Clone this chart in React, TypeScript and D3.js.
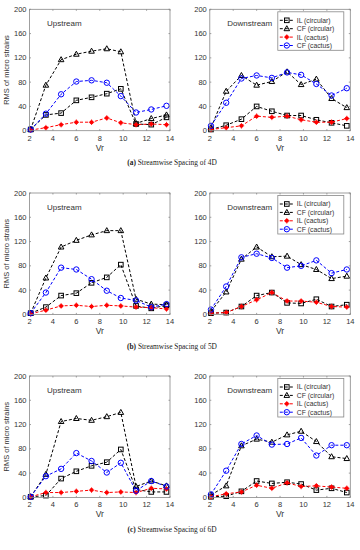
import React from "react";
import * as d3 from "d3";

const vr = [2.1, 3.4, 4.7, 6.0, 7.3, 8.6, 9.8, 11.1, 12.4, 13.7];
const xTicks = [2, 4, 6, 8, 10, 12, 14];
const yTicks = [0, 40, 80, 120, 160, 200];
const seriesNames = ["IL (circular)", "CF (circular)", "IL (cactus)", "CF (cactus)"];
const captions = ["(a)|Streamwise Spacing of 4D", "(b)|Streamwise Spacing of 5D", "(c)|Streamwise Spacing of 6D"];

// (a) 4D
const aUpIlCircular = [2, 26, 29, 50, 55, 61, 69, 11, 10, 22];
const aUpCfCircular = [2, 75, 117, 126, 131, 135, 130, 12, 20, 26];
const aUpIlCactus = [1, 5, 10, 14, 14, 21, 13, 10, 11, 10];
const aUpCfCactus = [2, 28, 60, 81, 83, 79, 57, 30, 35, 41];
const aDownIlCircular = [2, 9, 19, 40, 32, 25, 25, 18, 13, 8];
const aDownCfCircular = [5, 65, 91, 75, 81, 97, 76, 85, 53, 38];
const aDownIlCactus = [2, 5, 8, 24, 22, 24, 18, 14, 14, 20];
const aDownCfCactus = [8, 46, 86, 91, 87, 96, 92, 77, 58, 70];

// (b) 5D
const bUpIlCircular = [2, 12, 31, 35, 52, 61, 82, 14, 10, 15];
const bUpCfCircular = [2, 60, 111, 122, 131, 138, 138, 25, 17, 16];
const bUpIlCactus = [1, 7, 14, 15, 13, 15, 14, 12, 11, 9];
const bUpCfCactus = [2, 36, 77, 74, 58, 39, 27, 23, 12, 17];
const bDownIlCircular = [2, 3, 13, 31, 36, 19, 18, 25, 13, 16];
const bDownCfCircular = [5, 37, 91, 111, 95, 96, 82, 74, 59, 63];
const bDownIlCactus = [2, 3, 13, 24, 36, 22, 22, 20, 13, 12];
const bDownCfCactus = [8, 46, 94, 100, 93, 77, 80, 89, 68, 74];

// (c) 6D
const cUpIlCircular = [1, 3, 31, 43, 52, 58, 79, 13, 9, 9];
const cUpCfCircular = [1, 38, 125, 130, 127, 133, 140, 18, 27, 19];
const cUpIlCactus = [1, 8, 8, 10, 12, 8, 9, 8, 15, 14];
const cUpCfCactus = [1, 35, 47, 73, 60, 41, 57, 11, 27, 18];
const cDownIlCircular = [1, 2, 10, 27, 23, 25, 22, 12, 15, 8];
const cDownCfCircular = [4, 19, 85, 96, 91, 103, 109, 92, 67, 64];
const cDownIlCactus = [1, 6, 9, 20, 15, 24, 18, 19, 17, 15];
const cDownCfCactus = [5, 44, 88, 102, 87, 88, 98, 69, 86, 86];

const panels = [
  [[aUpIlCircular, aUpCfCircular, aUpIlCactus, aUpCfCactus], [aDownIlCircular, aDownCfCircular, aDownIlCactus, aDownCfCactus]],
  [[bUpIlCircular, bUpCfCircular, bUpIlCactus, bUpCfCactus], [bDownIlCircular, bDownCfCircular, bDownIlCactus, bDownCfCactus]],
  [[cUpIlCircular, cUpCfCircular, cUpIlCactus, cUpCfCactus], [cDownIlCircular, cDownCfCircular, cDownIlCactus, cDownCfCactus]],
];

const colors = ["#000", "#000", "#ff0000", "#0000ff"];
const markers = ["square", "triangle", "star", "circle"];
const font = "'Liberation Sans', Arial, sans-serif";
const axisColor = "#888";
const textColor = "#333";

function Marker({ type, x, y, color }: { type: string; x: number; y: number; color: string }) {
  if (type === "square") return <rect x={x - 2.3} y={y - 2.3} width={4.6} height={4.6} fill="none" stroke={color} strokeWidth={1} />;
  if (type === "triangle") return <path d={`M${x},${y - 3}L${x + 2.8},${y + 2}L${x - 2.8},${y + 2}Z`} fill="none" stroke={color} strokeWidth={1} />;
  if (type === "circle") return <circle cx={x} cy={y} r={2.7} fill="none" stroke={color} strokeWidth={1} />;
  return (
    <g>
      <circle cx={x} cy={y} r={2} fill={color} />
      <path d={`M${x - 2.8},${y}H${x + 2.8}M${x},${y - 2.8}V${y + 2.8}`} stroke={color} strokeWidth={0.8} />
    </g>
  );
}

function Panel({ left, top, series, title, legend, yLabel }: any) {
  const x = d3.scaleLinear().domain([2, 14]).range([left, left + 140.5]);
  const y = d3.scaleLinear().domain([0, 200]).range([top + 121.4, top]);
  const line = d3.line<number>().x((_, i) => x(vr[i])).y((d) => y(d));
  const [x0, x1] = x.range();
  const [y0, y1] = y.range();
  return (
    <g fontFamily={font}>
      {series.map((s: number[], k: number) => (
        <g key={k}>
          <path d={line(s) as string} fill="none" stroke={colors[k]} strokeWidth={1} strokeDasharray="3,2" />
          {s.map((v, i) => <Marker key={i} type={markers[k]} x={x(vr[i])} y={y(v)} color={colors[k]} />)}
        </g>
      ))}
      <rect x={x0} y={y1} width={x1 - x0} height={y0 - y1} fill="none" stroke={axisColor} strokeWidth={0.8} />
      {xTicks.map((t) => (
        <g key={t}>
          <line x1={x(t)} x2={x(t)} y1={y0} y2={y0 - 1.5} stroke={axisColor} strokeWidth={0.8} />
          <line x1={x(t)} x2={x(t)} y1={y1} y2={y1 + 1.5} stroke={axisColor} strokeWidth={0.8} />
          <text x={x(t)} y={y0 + 10} textAnchor="middle" fontSize={7.5} fill={textColor}>{t}</text>
        </g>
      ))}
      {yTicks.map((t) => (
        <g key={t}>
          <line x1={x0} x2={x0 + 1.5} y1={y(t)} y2={y(t)} stroke={axisColor} strokeWidth={0.8} />
          <line x1={x1} x2={x1 - 1.5} y1={y(t)} y2={y(t)} stroke={axisColor} strokeWidth={0.8} />
          <text x={x0 - 3} y={y(t) + 2.6} textAnchor="end" fontSize={7.5} fill={textColor}>{t}</text>
        </g>
      ))}
      <text x={(x0 + x1) / 2} y={y0 + 20} textAnchor="middle" fontSize={8.5} fill={textColor}>Vr</text>
      {yLabel && (
        <text transform={`translate(${x0 - 21},${(y0 + y1) / 2}) rotate(-90)`} textAnchor="middle" fontSize={7.5} fill={textColor}>RMS of micro strains</text>
      )}
      <text x={x0 + 17.5} y={y1 + 16.5} fontSize={8} fill={textColor}>{title}</text>
      {legend && (
        <g>
          <rect x={x0 + 68} y={y1 + 2.5} width={66} height={38.5} fill="#fff" stroke={axisColor} strokeWidth={0.8} />
          {seriesNames.map((n, k) => {
            const ly = y1 + 11 + k * 8.4;
            return (
              <g key={n}>
                <line x1={x0 + 70} x2={x0 + 84} y1={ly} y2={ly} stroke={colors[k]} strokeWidth={1} strokeDasharray="3,2" />
                <Marker type={markers[k]} x={x0 + 77} y={ly} color={colors[k]} />
                <text x={x0 + 87} y={ly + 2.4} fontSize={6.8} fill={textColor}>{n}</text>
              </g>
            );
          })}
        </g>
      )}
    </g>
  );
}

export default function App() {
  const tops = [9.3, 193, 376];
  return (
    <svg width={360} height={550} style={{ position: "absolute", left: 0, top: 0, background: "#fff" }}>
      {panels.map((p, r) => {
        const [lab, rest] = captions[r].split("|");
        return (
          <g key={r}>
            <Panel left={29.5} top={tops[r]} series={p[0]} title="Upstream" yLabel />
            <Panel left={209.8} top={tops[r]} series={p[1]} title="Downstream" legend />
            <text x={172} y={tops[r] + 155.5} textAnchor="middle" fontSize={7.4} fontFamily="'Liberation Serif', 'DejaVu Serif', serif" fill="#222">
              <tspan fontWeight="bold">{lab}</tspan> {rest}
            </text>
          </g>
        );
      })}
    </svg>
  );
}
